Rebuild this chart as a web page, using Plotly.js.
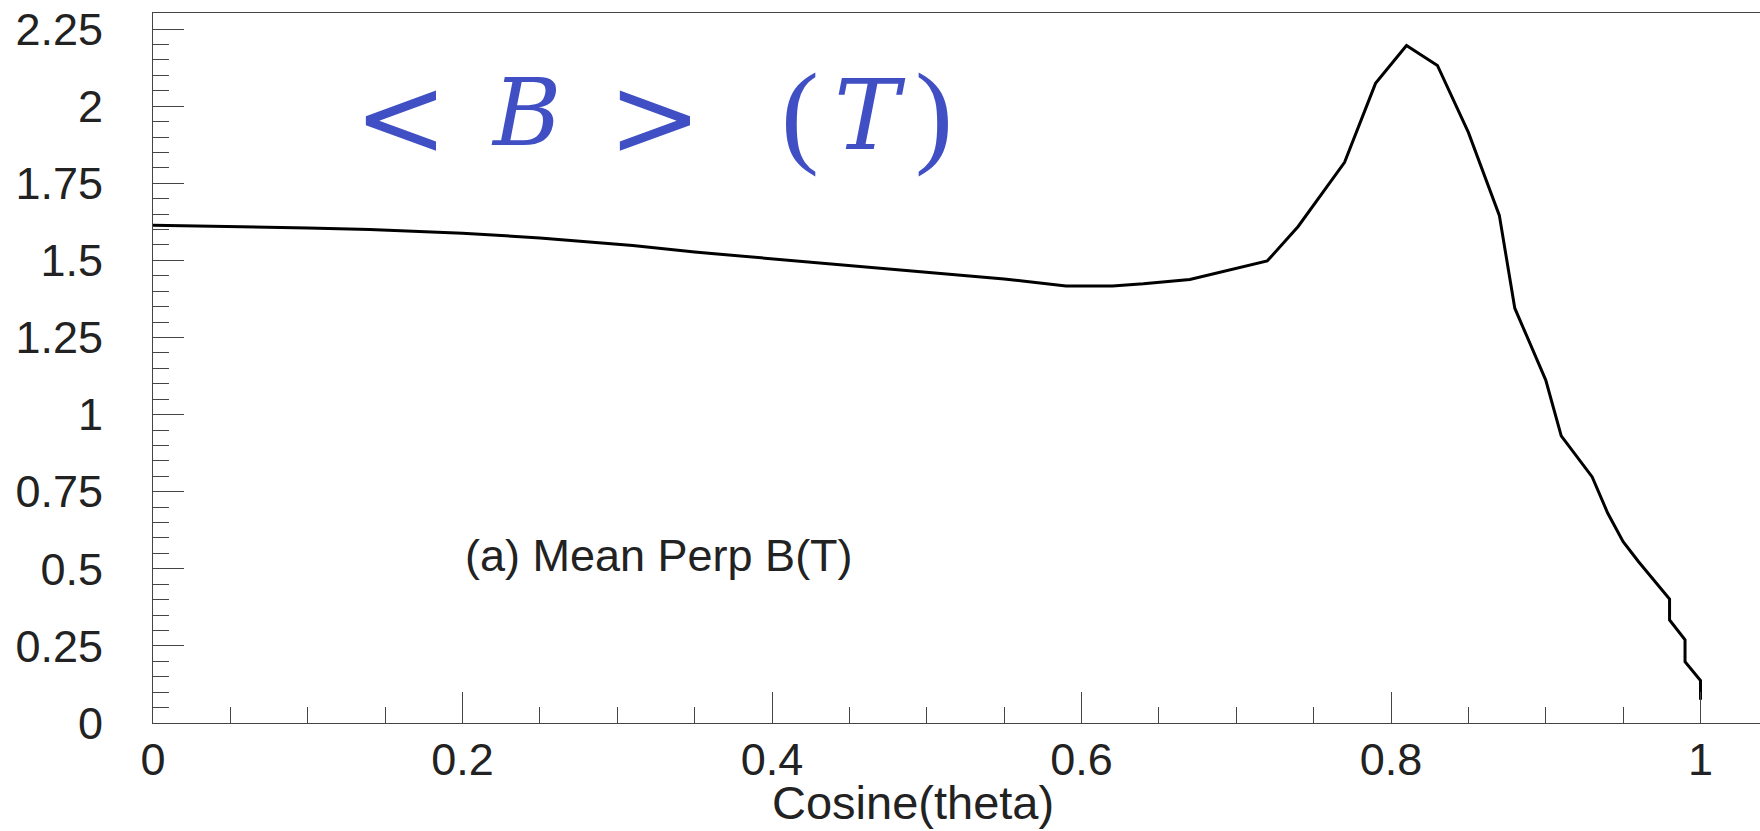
<!DOCTYPE html>
<html>
<head>
<meta charset="utf-8">
<script src="https://cdn.plot.ly/plotly-3.0.1.min.js"></script>
<style>html,body{margin:0;padding:0;overflow:hidden;background:#fff;}#chart{width:1760px;height:831px;}</style>
</head>
<body>
<div id="chart"></div>
<script>
// Data
const cosTheta = [0, 0.05, 0.10, 0.14, 0.20, 0.25, 0.31, 0.35, 0.40, 0.45, 0.50, 0.55, 0.59, 0.62, 0.64, 0.67, 0.72, 0.74, 0.77, 0.79, 0.81, 0.83, 0.85, 0.87, 0.88, 0.90, 0.91, 0.93, 0.94, 0.95, 0.96, 0.98, 0.98, 0.99, 0.99, 1.00, 1.00];
const meanPerpB = [1.614, 1.610, 1.605, 1.600, 1.588, 1.573, 1.548, 1.527, 1.505, 1.484, 1.462, 1.440, 1.417, 1.417, 1.424, 1.438, 1.498, 1.610, 1.818, 2.074, 2.197, 2.132, 1.915, 1.646, 1.345, 1.112, 0.931, 0.798, 0.681, 0.588, 0.523, 0.402, 0.334, 0.270, 0.199, 0.138, 0.075];
const yTickVals = [0, 0.25, 0.5, 0.75, 1, 1.25, 1.5, 1.75, 2, 2.25];
const yTickText = ["0", "0.25", "0.5", "0.75", "1", "1.25", "1.5", "1.75", "2", "2.25"];
const xTickVals = [0, 0.2, 0.4, 0.6, 0.8, 1];
const xTickText = ["0", "0.2", "0.4", "0.6", "0.8", "1"];
const xTitle = "Cosine(theta)";
const panelLabel = "(a) Mean Perp B(T)";
const titleParts = ["&lt;", "<i>B</i>", "&gt;", "(", "<i>T</i>", ")"];

// Layout geometry (pixels)
const W = 1760, H = 831;
const M = {l: 153, r: 0, t: 13, b: 108};
const plotW = W - M.l - M.r, plotH = H - M.t - M.b;
const px = x => (x - M.l) / plotW;
const py = y => (H - M.b - y) / plotH;

const blue = 'rgb(64,80,196)';
const titleSpec = [
  {cx: 401, cy: 117, size: 112, family: 'DejaVu Serif'},
  {cx: 526, cy: 113, size: 93, family: 'DejaVu Serif'},
  {cx: 655, cy: 117, size: 112, family: 'DejaVu Serif'},
  {cx: 800, cy: 113, size: 114, family: 'Liberation Serif'},
  {cx: 870, cy: 115, size: 98, family: 'DejaVu Serif'},
  {cx: 934, cy: 113, size: 114, family: 'Liberation Serif'}
];
const annotations = titleParts.map((t, i) => ({
  text: t, xref: 'paper', yref: 'paper', x: px(titleSpec[i].cx), y: py(titleSpec[i].cy),
  xanchor: 'center', yanchor: 'middle', showarrow: false,
  font: {family: titleSpec[i].family, size: titleSpec[i].size, color: blue}
}));
annotations.push({
  text: panelLabel, xref: 'paper', yref: 'paper', x: px(463), y: py(555),
  xanchor: 'left', yanchor: 'middle', showarrow: false,
  font: {family: 'Liberation Sans, Arial, sans-serif', size: 45, color: '#222'}
});
annotations.push({
  text: xTitle, xref: 'paper', yref: 'paper', x: px(913), y: py(802),
  xanchor: 'center', yanchor: 'middle', showarrow: false,
  font: {family: 'Liberation Sans, Arial, sans-serif', size: 47, color: '#222'}
});

const trace = {
  x: cosTheta, y: meanPerpB, type: 'scatter', mode: 'lines',
  line: {color: '#000', width: 3}, hoverinfo: 'x+y'
};

const tickFont = {family: 'Liberation Sans, Arial, sans-serif', size: 45, color: '#222'};
const layout = {
  width: W, height: H, margin: M,
  paper_bgcolor: '#fff', plot_bgcolor: '#fff', showlegend: false,
  xaxis: {
    range: [0, plotW / 1547.5], tickvals: xTickVals, ticktext: xTickText,
    ticks: 'inside', ticklen: 31, tickwidth: 1, tickcolor: '#444',
    minor: {dtick: 0.05, ticks: 'inside', ticklen: 16, tickwidth: 1, tickcolor: '#444', showgrid: false},
    showline: true, linecolor: '#444', linewidth: 1, mirror: true,
    showgrid: false, zeroline: false, tickfont: tickFont, ticklabelstandoff: -3,
    automargin: false, fixedrange: true
  },
  yaxis: {
    range: [0, plotH / 308.4], tickvals: yTickVals, ticktext: yTickText,
    ticks: 'inside', ticklen: 31, tickwidth: 1, tickcolor: '#444',
    minor: {dtick: 0.05, ticks: 'inside', ticklen: 16, tickwidth: 1, tickcolor: '#444', showgrid: false},
    showline: true, linecolor: '#444', linewidth: 1,
    showgrid: false, zeroline: false, tickfont: tickFont, ticklabelstandoff: 40,
    automargin: false, fixedrange: true
  },
  annotations: annotations
};
Plotly.newPlot('chart', [trace], layout, {displayModeBar: false, staticPlot: true});
</script>
</body>
</html>
